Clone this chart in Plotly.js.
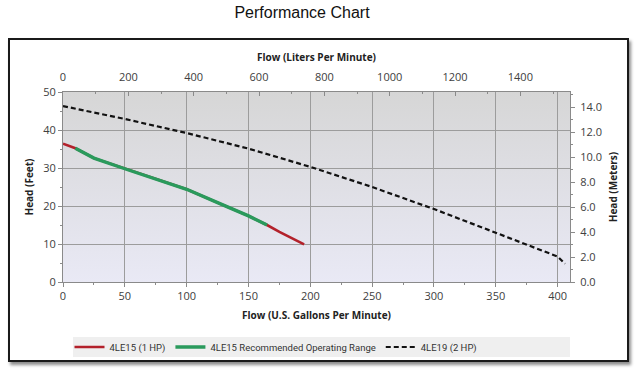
<!DOCTYPE html>
<html>
<head>
<meta charset="utf-8">
<script src="https://cdn.plot.ly/plotly-3.0.1.min.js"></script>
<style>
html,body{margin:0;padding:0;background:#fff;}
#wrap{position:relative;width:640px;height:374px;}
#chart{width:640px;height:374px;}
#frame{position:absolute;left:8px;top:38px;width:617px;height:320px;border:2px solid #1a1a1a;box-shadow:2px 3px 3px rgba(0,0,0,0.45);pointer-events:none;}
</style>
</head>
<body>
<div id="wrap">
<div id="chart"></div>
<div id="frame"></div>
</div>
<script>
// Data (flow in US gallons per minute, head in feet)
const flow1hp = [0, 10, 25, 50, 75, 100, 125, 150, 165, 175, 195];
const head1hp = [36.4, 35.2, 32.6, 29.8, 27.1, 24.4, 20.9, 17.4, 15.0, 13.2, 9.9];
const flowRange = [10, 25, 50, 75, 100, 125, 150, 165];
const headRange = [35.2, 32.6, 29.8, 27.1, 24.4, 20.9, 17.4, 15.0];
const flow2hp = [0, 50, 100, 150, 200, 250, 300, 350, 400, 406];
const head2hp = [46.3, 42.9, 39.2, 35.1, 30.3, 25.0, 19.2, 12.9, 6.7, 4.8];
const seriesNames = ["4LE15 (1 HP)", "4LE15 Recommended Operating Range", "4LE19 (2 HP)"];

const GPM_MAX = 410, FT_MAX = 50;
const L_PER_GAL = 3.785411784, M_PER_FT = 0.3048;

const tickFont = {family: "Open Sans, sans-serif", size: 11, color: "#404040"};
const titleFont = {family: "Open Sans, sans-serif", size: 10, color: "#222", weight: "bold"};

const traces = [
  {x: flow1hp, y: head1hp, name: seriesNames[0], mode: "lines",
   line: {color: "#b3212b", width: 2.6}},
  {x: flowRange, y: headRange, name: seriesNames[1], mode: "lines",
   line: {color: "#2a9a5c", width: 3.4}},
  {x: flow2hp, y: head2hp, name: seriesNames[2], mode: "lines",
   line: {color: "#111", width: 2.2, dash: "5px,3px"}},
  // same 2 HP curve in metric units, invisible: it carries the top and right axes
  {x: flow2hp.map(v => v * L_PER_GAL), y: head2hp.map(v => v * M_PER_FT),
   xaxis: "x2", yaxis: "y2", mode: "lines", opacity: 0, showlegend: false,
   hoverinfo: "skip", line: {width: 0}}
];

const gradSvg = '<svg xmlns="http://www.w3.org/2000/svg" width="10" height="100" preserveAspectRatio="none">' +
  '<defs><linearGradient id="g" x1="0" y1="0" x2="0" y2="1">' +
  '<stop offset="0" stop-color="#d6d6d6"/><stop offset="1" stop-color="#e9e9f5"/></linearGradient></defs>' +
  '<rect width="10" height="100" fill="url(#g)"/></svg>';

const layout = {
  width: 640, height: 374,
  margin: {l: 63, r: 70, t: 92, b: 92},
  paper_bgcolor: "#fff",
  plot_bgcolor: "rgba(0,0,0,0)",
  showlegend: true,
  title: {text: "Performance Chart", x: 302/640, xref: "container", xanchor: "center",
          y: 1 - 12/374, yref: "container", yanchor: "middle",
          font: {family: "Liberation Sans, Arial, sans-serif", size: 16, color: "#111"}},
  images: [{source: "data:image/svg+xml;charset=utf-8," + encodeURIComponent(gradSvg),
            xref: "paper", yref: "paper", x: 0, y: 1, sizex: 1, sizey: 1,
            sizing: "stretch", xanchor: "left", yanchor: "top", layer: "below"}],
  xaxis: {range: [0, GPM_MAX], dtick: 50, tick0: 0, showgrid: true, gridcolor: "#9c9c9c", gridwidth: 1,
          zeroline: false, showline: true, linecolor: "#8a8a8a", mirror: false,
          ticks: "outside", ticklen: 4, tickcolor: "#8a8a8a",
          minor: {dtick: 25, ticks: "outside", ticklen: 2, tickcolor: "#8a8a8a", showgrid: false},
          tickfont: tickFont,
          title: {text: "Flow (U.S. Gallons Per Minute)", font: titleFont, standoff: 9}},
  xaxis2: {range: [0, GPM_MAX * L_PER_GAL], dtick: 200, tick0: 0, overlaying: "x", side: "top", anchor: "y2",
           showgrid: false, zeroline: false, showline: true, linecolor: "#8a8a8a",
           ticks: "inside", ticklen: 4, tickcolor: "#8a8a8a", ticklabelstandoff: 6,
           minor: {dtick: 100, ticks: "inside", ticklen: 2, tickcolor: "#8a8a8a"},
           tickfont: tickFont,
           title: {text: "Flow (Liters Per Minute)", font: titleFont, standoff: 5}},
  yaxis: {range: [0, FT_MAX], dtick: 10, tick0: 0, showgrid: true, gridcolor: "#9c9c9c", gridwidth: 1,
          zeroline: false, showline: true, linecolor: "#8a8a8a",
          ticks: "outside", ticklen: 4, tickcolor: "#8a8a8a",
          minor: {dtick: 5, ticks: "outside", ticklen: 2, tickcolor: "#8a8a8a", showgrid: false},
          tickfont: tickFont,
          title: {text: "Head (Feet)", font: titleFont, standoff: 7}},
  yaxis2: {range: [0, FT_MAX * M_PER_FT], dtick: 2, tick0: 0, tickformat: ".1f",
           overlaying: "y", side: "right", anchor: "x2",
           showgrid: false, zeroline: false, showline: true, linecolor: "#8a8a8a",
           ticks: "outside", ticklen: 4, tickcolor: "#8a8a8a", ticklabelstandoff: 3,
           minor: {dtick: 1, ticks: "outside", ticklen: 2, tickcolor: "#8a8a8a"},
           tickfont: tickFont,
           title: {text: "Head (Meters)", font: titleFont, standoff: 9}},
  shapes: [{type: "rect", xref: "paper", yref: "paper",
            x0: (73-63)/507, x1: (570-63)/507, y0: (282-357)/190, y1: (282-337)/190,
            fillcolor: "#efefef", line: {width: 0}, layer: "below"}],
  legend: {orientation: "h", xref: "container", yref: "container",
           x: 276/640, xanchor: "center", y: 1 - 347/374, yanchor: "middle",
           bgcolor: "rgba(0,0,0,0)", itemwidth: 30,
           font: {family: "Roboto, sans-serif", size: 9.5, color: "#333"}, tracegroupgap: 0}
};

Plotly.newPlot("chart", traces, layout, {staticPlot: true, displayModeBar: false});
</script>
</body>
</html>
